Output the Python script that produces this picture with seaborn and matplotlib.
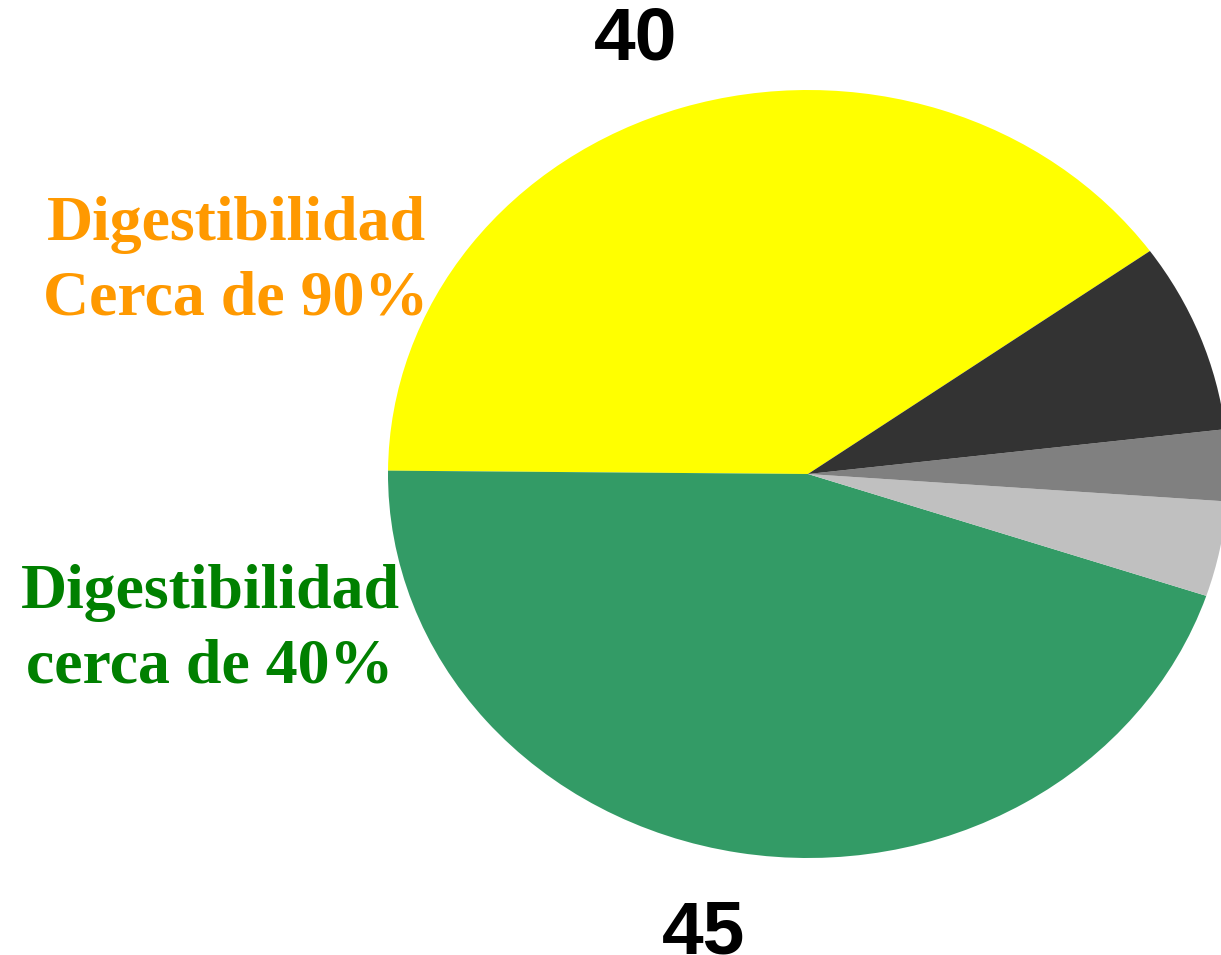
import matplotlib
matplotlib.use("Agg")
import matplotlib.pyplot as plt
import numpy as np
import seaborn as sns

# Data
values = [40, 45, 4, 3, 8]
colors = ["#FFFF00", "#339B66", "#C0C0C0", "#808080", "#333333"]
note_90 = "Digestibilidad\nCerca de 90%"
note_40 = "Digestibilidad\ncerca de 40%"

sns.set_style("white")

W, H = 1221, 955
fig = plt.figure(figsize=(W / 100, H / 100), dpi=100)

# elliptical pie: axes box spans the ellipse, aspect left free
ax = fig.add_axes([388 / W, (H - 858) / H, 840 / W, 768 / H])

wedges, _ = ax.pie(
    values,
    colors=colors,
    startangle=35.5,
    counterclock=True,
    radius=1.0,
    wedgeprops=dict(linewidth=0),
)
ax.set_aspect("auto")
ax.set_xlim(-1, 1)
ax.set_ylim(-1, 1)
ax.axis("off")

# value labels only on the two big slices, just outside the rim
for w, v in zip(wedges, values):
    if v < 20:
        continue
    ang = np.deg2rad((w.theta1 + w.theta2) / 2)
    ax.text(1.2 * np.cos(ang) - 0.05, 1.2 * np.sin(ang) - 0.065, str(v),
            ha="center", va="baseline", fontsize=54, fontweight="bold",
            family="Liberation Sans", color="black", clip_on=False)

fig.text(236 / W, 1 - 262 / H, note_90, ha="center", va="center",
         color="#FF9900", fontsize=46, fontweight="bold",
         family="Liberation Serif", linespacing=1.38)
fig.text(210 / W, 1 - 630 / H, note_40, ha="center", va="center",
         color="#008000", fontsize=46, fontweight="bold",
         family="Liberation Serif", linespacing=1.38)

fig.savefig("out.png", dpi=100)
